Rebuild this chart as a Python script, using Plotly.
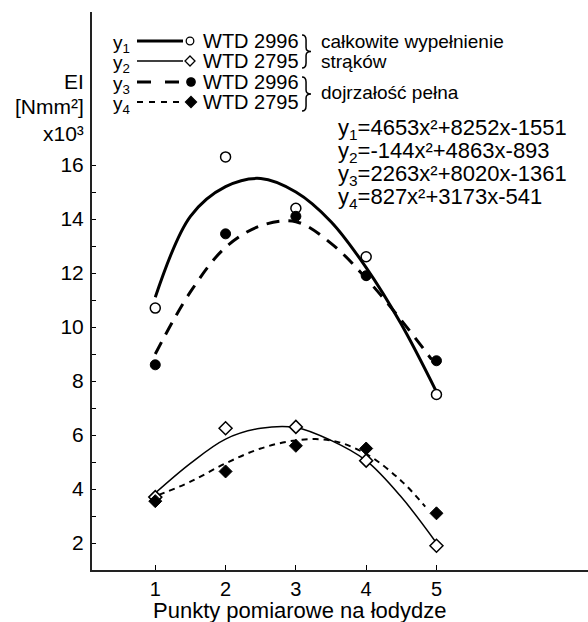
import plotly.graph_objects as go

# ---------------- data ----------------
points_x = [1, 2, 3, 4, 5]
y1_points = [10.7, 16.3, 14.4, 12.6, 7.5]    # WTD 2996, całkowite wypełnienie strąków
y2_points = [3.7, 6.25, 6.3, 5.05, 1.9]      # WTD 2795, całkowite wypełnienie strąków
y3_points = [8.6, 13.45, 14.1, 11.9, 8.75]   # WTD 2996, dojrzałość pełna
y4_points = [3.55, 4.65, 5.6, 5.5, 3.1]      # WTD 2795, dojrzałość pełna

# fitted curves as drawn in the picture
y1_curve_x = [1, 1.5, 2, 2.5, 3, 3.5, 4, 4.5, 5]
y1_curve = [11.1, 14.1, 15.2, 15.5, 15.0, 13.9, 12.2, 10.1, 7.6]
y2_curve_x = [1, 1.5, 2, 2.5, 3, 3.5, 4, 4.5, 5]
y2_curve = [3.85, 4.95, 5.85, 6.25, 6.28, 5.8, 5.05, 3.7, 2.0]
y3_curve_x = [1, 1.5, 2, 2.5, 3, 3.5, 4, 4.5, 4.93]
y3_curve = [9.0, 11.3, 12.95, 13.75, 13.9, 13.1, 11.8, 10.25, 8.8]
y4_curve_x = [1.05, 1.5, 2, 2.5, 3, 3.5, 4, 4.5, 4.84]
y4_curve = [3.78, 4.27, 4.95, 5.5, 5.8, 5.8, 5.3, 4.3, 3.35]

x_ticks = [1, 2, 3, 4, 5]
y_ticks = [2, 4, 6, 8, 10, 12, 14, 16]
y_minor_ticks = [3, 5, 7, 9, 11, 13, 15]

series_names = ["WTD 2996", "WTD 2795", "WTD 2996", "WTD 2795"]
group_labels = ["całkowite wypełnienie", "strąków", "dojrzałość pełna"]
equations = [
    "y<sub>1</sub>=4653x²+8252x-1551",
    "y<sub>2</sub>=-144x²+4863x-893",
    "y<sub>3</sub>=2263x²+8020x-1361",
    "y<sub>4</sub>=827x²+3173x-541",
]
x_title = "Punkty pomiarowe na łodydze"
y_title_lines = ["EI", "[Nmm²]", "x10³"]

FONT = "Liberation Sans, Arial, sans-serif"
W, H = 588, 622
L, T, R, B = 92, 12, 0, 52
PW, PH = W - L - R, H - T - B


def px(x):
    return (x - L) / PW


def py(y):
    return (T + PH - y) / PH


fig = go.Figure()

# curves
fig.add_trace(go.Scatter(x=y1_curve_x, y=y1_curve, mode="lines", line_shape="spline",
                         line=dict(color="black", width=3), showlegend=False))
fig.add_trace(go.Scatter(x=y2_curve_x, y=y2_curve, mode="lines", line_shape="spline",
                         line=dict(color="black", width=1.5), showlegend=False))
fig.add_trace(go.Scatter(x=y3_curve_x, y=y3_curve, mode="lines", line_shape="spline",
                         line=dict(color="black", width=3, dash="13px,9px"), showlegend=False))
fig.add_trace(go.Scatter(x=y4_curve_x, y=y4_curve, mode="lines", line_shape="spline",
                         line=dict(color="black", width=2, dash="6px,5px"), showlegend=False))

# points
fig.add_trace(go.Scatter(x=points_x, y=y1_points, mode="markers", showlegend=False,
                         marker=dict(symbol="circle", size=10, color="white",
                                     line=dict(color="black", width=1.5))))
fig.add_trace(go.Scatter(x=points_x, y=y2_points, mode="markers", showlegend=False,
                         marker=dict(symbol="diamond", size=10, color="white",
                                     line=dict(color="black", width=1.5))))
fig.add_trace(go.Scatter(x=points_x, y=y3_points, mode="markers", showlegend=False,
                         marker=dict(symbol="circle", size=10, color="black",
                                     line=dict(color="black", width=1))))
fig.add_trace(go.Scatter(x=points_x, y=y4_points, mode="markers", showlegend=False,
                         marker=dict(symbol="diamond", size=10, color="black",
                                     line=dict(color="black", width=1))))

annotations = []
shapes = []

# ---------- custom legend ----------
rows = [41, 61, 82, 102]
line_styles = [(3, "solid"), (1.5, "solid"), (3, "14px,14px"), (1.8, "6px,6px")]
for i, r in enumerate(rows):
    annotations.append(dict(xref="paper", yref="paper", x=px(111), y=py(r + 3),
                            xanchor="left", yanchor="middle", showarrow=False,
                            text=f"y<sub>{i + 1}</sub>", font=dict(family=FONT, size=19, color="black")))
    w, d = line_styles[i]
    shapes.append(dict(type="line", xref="paper", yref="paper",
                       x0=px(137), x1=px(183), y0=py(r), y1=py(r),
                       line=dict(color="black", width=w, dash=d)))
    annotations.append(dict(xref="paper", yref="paper", x=px(201), y=py(r),
                            xanchor="left", yanchor="middle", showarrow=False,
                            text=series_names[i], font=dict(family=FONT, size=20, color="black")))


def circle(cx, cy, rad, fill):
    return dict(type="circle", xref="paper", yref="paper",
                x0=px(cx - rad), x1=px(cx + rad), y0=py(cy + rad), y1=py(cy - rad),
                fillcolor=fill, line=dict(color="black", width=1.3))


def diamond(cx, cy, rad, fill):
    path = (f"M {px(cx)},{py(cy - rad)} L {px(cx + rad)},{py(cy)} "
            f"L {px(cx)},{py(cy + rad)} L {px(cx - rad)},{py(cy)} Z")
    return dict(type="path", xref="paper", yref="paper", path=path,
                fillcolor=fill, line=dict(color="black", width=1.3))


shapes.append(circle(190, rows[0], 3.8, "white"))
shapes.append(diamond(190, rows[1], 5, "white"))
shapes.append(circle(191, rows[2], 4.2, "black"))
shapes.append(diamond(191, rows[3], 5.5, "black"))


def brace(x0, ytop, ybot, w):
    ym = (ytop + ybot) / 2
    xm = x0 + w * 0.45
    pts = [
        f"M {px(x0)},{py(ytop)}",
        f"Q {px(xm)},{py(ytop)} {px(xm)},{py(ytop + 5)}",
        f"L {px(xm)},{py(ym - 4)}",
        f"Q {px(xm)},{py(ym)} {px(x0 + w)},{py(ym)}",
        f"Q {px(xm)},{py(ym)} {px(xm)},{py(ym + 4)}",
        f"L {px(xm)},{py(ybot - 5)}",
        f"Q {px(xm)},{py(ybot)} {px(x0)},{py(ybot)}",
    ]
    return dict(type="path", xref="paper", yref="paper", path=" ".join(pts),
                line=dict(color="black", width=1.5))


shapes.append(brace(302, 35, 68, 9))
shapes.append(brace(302, 77, 111, 9))

for txt, r in zip(group_labels, [42, 62, 92]):
    annotations.append(dict(xref="paper", yref="paper", x=px(319), y=py(r), xanchor="left",
                            yanchor="middle", showarrow=False, text=txt,
                            font=dict(family=FONT, size=19, color="black")))

# equations
for eq, r in zip(equations, [129, 152, 175, 198]):
    annotations.append(dict(xref="paper", yref="paper", x=px(336), y=py(r), xanchor="left",
                            yanchor="middle", showarrow=False, text=eq,
                            font=dict(family=FONT, size=22, color="black")))

# y title
for txt, r in zip(y_title_lines, [82, 106, 134]):
    annotations.append(dict(xref="paper", yref="paper", x=px(86), y=py(r), xanchor="right",
                            yanchor="middle", showarrow=False, text=txt,
                            font=dict(family=FONT, size=21, color="black")))

# x title
annotations.append(dict(xref="paper", yref="paper", x=px(300), y=py(610), xanchor="center",
                        yanchor="middle", showarrow=False, text=x_title,
                        font=dict(family=FONT, size=22, color="black")))

fig.update_layout(
    width=W, height=H,
    margin=dict(l=L, r=R, t=T, b=B, pad=0),
    paper_bgcolor="white", plot_bgcolor="white",
    showlegend=False,
    annotations=annotations, shapes=shapes,
    xaxis=dict(range=[0.1, 0.1 + PW / 70.3], tickvals=x_ticks, ticks="inside", ticklen=5,
               tickwidth=1.2, tickcolor="black", showline=True, linecolor="#222",
               linewidth=2, showgrid=False, zeroline=False, ticklabelstandoff=0,
               tickfont=dict(family=FONT, size=20, color="black")),
    yaxis=dict(range=[1, 1 + PH / 27.0], tickvals=y_ticks,
               ticks="inside", ticklen=4, tickwidth=1.2, tickcolor="black",
               minor=dict(tickmode="array", tickvals=y_minor_ticks, ticks="inside",
                          ticklen=4, tickwidth=1.2, tickcolor="black", showgrid=False),
               showline=True, linecolor="#222", linewidth=2, showgrid=False,
               zeroline=False, ticklabelstandoff=2,
               tickfont=dict(family=FONT, size=21, color="black")),
)

fig.write_html("out.html")
